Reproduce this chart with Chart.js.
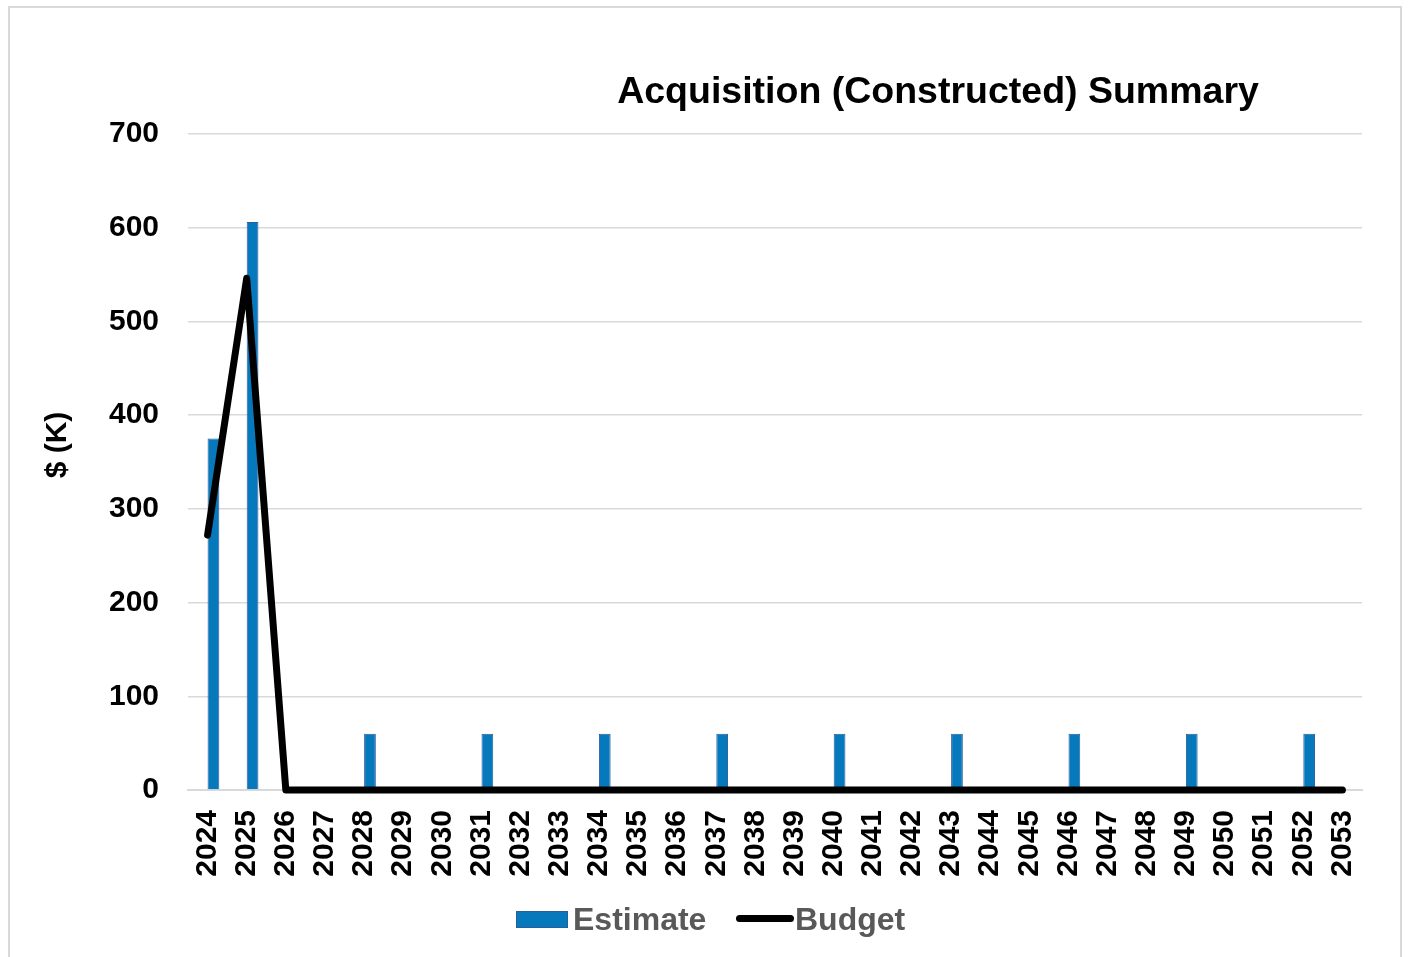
<!DOCTYPE html>
<html>
<head>
<meta charset="utf-8">
<script src="https://cdn.jsdelivr.net/npm/chart.js@4.4.1/dist/chart.umd.min.js"></script>
<style>
  html, body { margin: 0; padding: 0; background: #fff; width: 1408px; height: 957px; overflow: hidden; }
  #frame { position: absolute; left: 8px; top: 6px; width: 1394px; height: 1000px; border: 2px solid #d9d9d9; box-sizing: border-box; }
  #wrap { position: absolute; left: 0; top: 0; width: 1408px; height: 957px; }
  #legend { position: absolute; left: 0; top: 899px; width: 1408px; height: 40px; font-family: "Liberation Sans", Arial, sans-serif; font-weight: bold; font-size: 32px; color: #595959; }
  .lg { position: absolute; top: 0; line-height: 40px; white-space: nowrap; }
  .box { position: absolute; background: #0679BC; border: 1px solid #2E5C99; box-sizing: border-box; }
  .ln { position: absolute; background: #000; border-radius: 4px; }
</style>
</head>
<body>
<div id="frame"></div>
<div id="wrap"><canvas id="c" width="1408" height="957"></canvas></div>
<div id="legend">
  <div class="box" style="left:516px; top:12px; width:52px; height:17px;"></div>
  <div class="lg" style="left:573px;">Estimate</div>
  <div class="ln" style="left:736px; top:16px; width:58px; height:7px;"></div>
  <div class="lg" style="left:795px;">Budget</div>
</div>
<script>
const categories = ["2024","2025","2026","2027","2028","2029","2030","2031","2032","2033","2034","2035","2036","2037","2038","2039","2040","2041","2042","2043","2044","2045","2046","2047","2048","2049","2050","2051","2052","2053"];
const hiddenSeries = [0,0,0,0,0,0,0,0,0,0,0,0,0,0,0,0,0,0,0,0,0,0,0,0,0,0,0,0,0,0];
const estimate = [375,606,0,0,60,0,0,60,0,0,60,0,0,60,0,0,60,0,0,60,0,0,60,0,0,60,0,0,60,0];
const budget = [272,546,0,0,0,0,0,0,0,0,0,0,0,0,0,0,0,0,0,0,0,0,0,0,0,0,0,0,0,0];
const yTicks = [0,100,200,300,400,500,600,700];
const chartTitle = "Acquisition (Constructed) Summary";
const yTitle = "$ (K)";

const FONT = '"Liberation Sans", Arial, sans-serif';

const titlePlugin = {
  id: 'customTitle',
  afterDraw(chart) {
    const ctx = chart.ctx;
    ctx.save();
    ctx.font = 'bold 37.5px ' + FONT;
    ctx.fillStyle = '#000';
    ctx.textAlign = 'center';
    ctx.textBaseline = 'alphabetic';
    ctx.fillText(chartTitle, 938, 103);
    // y-axis title
    ctx.font = 'bold 30px ' + FONT;
    ctx.translate(58, 445);
    ctx.rotate(-Math.PI / 2);
    ctx.textAlign = 'center';
    ctx.textBaseline = 'middle';
    ctx.fillText(yTitle, 0, 0);
    ctx.restore();
  }
};

new Chart(document.getElementById('c'), {
  data: {
    labels: categories,
    datasets: [
      { type: 'line', label: 'Budget', data: budget, borderColor: '#000', backgroundColor: '#000', borderWidth: 7, pointRadius: 0, tension: 0, borderCapStyle: 'round', borderJoinStyle: 'round', clip: false, order: 0 },
      { type: 'bar', label: 'Hidden', data: hiddenSeries, backgroundColor: '#1FA39A', borderColor: '#1FA39A', borderWidth: 1, barPercentage: 1, categoryPercentage: 0.6, order: 1 },
      { type: 'bar', label: 'Estimate', data: estimate, backgroundColor: '#0679BC', borderColor: '#2E5C99', borderWidth: 1, barPercentage: 1, categoryPercentage: 0.6, order: 1 }
    ]
  },
  options: {
    responsive: false,
    animation: false,
    devicePixelRatio: 1,
    layout: { padding: { left: 0, right: 46, top: 134, bottom: 0 } },
    plugins: { legend: { display: false }, title: { display: false }, tooltip: { enabled: false } },
    scales: {
      x: {
        grid: { display: false, drawTicks: false },
        border: { display: true, color: '#d9d9d9', width: 2 },
        ticks: { color: '#000', font: { family: FONT, weight: 'bold', size: 30 }, minRotation: 90, maxRotation: 90, padding: 20, autoSkip: false },
        afterFit(s) { s.height = 167; }
      },
      y: {
        min: 0, max: 700,
        afterBuildTicks(s) { s.ticks = yTicks.map(v => ({ value: v })); },
        grid: { color: '#d9d9d9', lineWidth: 1.5, drawTicks: false },
        border: { display: false },
        ticks: { color: '#000', font: { family: FONT, weight: 'bold', size: 30 }, padding: 29 },
        title: { display: false },
        afterFit(s) { s.width = 188; }
      }
    }
  },
  plugins: [titlePlugin]
});
</script>
</body>
</html>
